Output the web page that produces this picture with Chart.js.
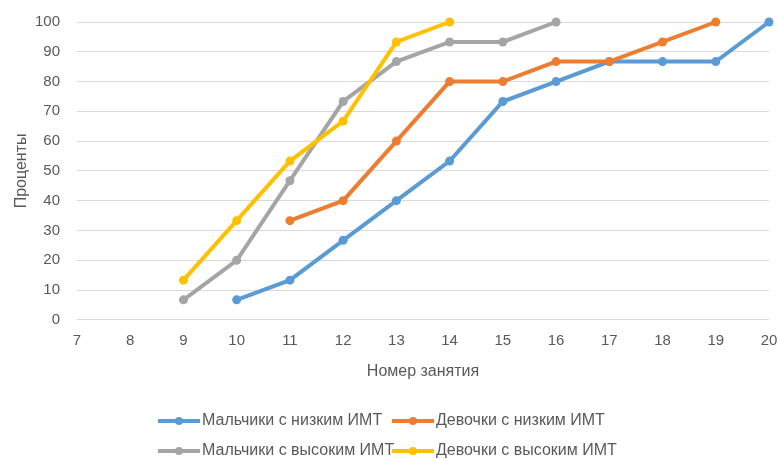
<!DOCTYPE html>
<html>
<head>
<meta charset="utf-8">
<script src="https://cdn.jsdelivr.net/npm/chart.js@4/dist/chart.umd.min.js"></script>
<style>
  html, body { margin: 0; padding: 0; background: #fff; }
  #wrap { width: 779px; height: 459px; }
</style>
</head>
<body>
<div id="wrap"><canvas id="mychart" width="779" height="459"></canvas></div>
<script>
let sessions = [7, 8, 9, 10, 11, 12, 13, 14, 15, 16, 17, 18, 19, 20];
let yTicks = [0, 10, 20, 30, 40, 50, 60, 70, 80, 90, 100];
let seriesNames = ["Мальчики с низким ИМТ", "Девочки с низким ИМТ", "Мальчики с высоким ИМТ", "Девочки с высоким ИМТ"];
let boysLow = [null, null, null, 6.7, 13.3, 26.7, 40, 53.3, 73.3, 80, 86.7, 86.7, 86.7, 100];
let girlsLow = [null, null, null, null, 33.3, 40, 60, 80, 80, 86.7, 86.7, 93.3, 100, null];
let boysHigh = [null, null, 6.7, 20, 46.7, 73.3, 86.7, 93.3, 93.3, 100, null, null, null, null];
let girlsHigh = [null, null, 13.3, 33.3, 53.3, 66.7, 93.3, 100, null, null, null, null, null, null];
let colors = ["#5B9BD5", "#ED7D31", "#A5A5A5", "#FFC000"];

let font = "'Liberation Sans', Arial, sans-serif";
let textColor = "#595959";

function series(i, values, order) {
  return {
    label: seriesNames[i],
    data: values,
    borderColor: colors[i],
    backgroundColor: colors[i],
    borderWidth: 4,
    pointRadius: 4.5,
    pointHoverRadius: 4.5,
    pointBorderWidth: 0,
    tension: 0,
    clip: false,
    order: order,
  };
}

// legend drawn in two rows like the original
let legendPlugin = {
  id: "gridLegend",
  afterDraw(chart) {
    let ctx = chart.ctx;
    let cols = [158, 392];
    let rows = [421, 451];
    ctx.save();
    chart.data.datasets.forEach((ds, i) => {
      let x = cols[i % 2];
      let y = rows[Math.floor(i / 2)];
      ctx.strokeStyle = ds.borderColor;
      ctx.lineWidth = 4;
      ctx.beginPath();
      ctx.moveTo(x, y);
      ctx.lineTo(x + 42, y);
      ctx.stroke();
      ctx.fillStyle = ds.borderColor;
      ctx.beginPath();
      ctx.arc(x + 21, y, 4, 0, Math.PI * 2);
      ctx.fill();
      ctx.fillStyle = textColor;
      ctx.font = "16px " + font;
      ctx.textBaseline = "middle";
      ctx.textAlign = "left";
      ctx.fillText(ds.label, x + 44, y);
    });
    ctx.restore();
  },
};

let chart = new Chart(document.getElementById("mychart"), {
  type: "line",
  data: {
    labels: sessions,
    datasets: [
      series(0, boysLow, 3),
      series(1, girlsLow, 2),
      series(2, boysHigh, 1),
      series(3, girlsHigh, 0),
    ],
  },
  options: {
    responsive: false,
    animation: false,
    layout: { padding: { left: 12, right: 0, top: 22, bottom: 78 } },
    plugins: {
      legend: { display: false },
      tooltip: { enabled: false },
    },
    scales: {
      x: {
        offset: false,
        afterFit: (scale) => { scale.paddingLeft = 0; scale.paddingRight = 10; },
        grid: { display: false, drawTicks: false },
        border: { display: false },
        ticks: { color: textColor, font: { family: font, size: 15 }, padding: 12, maxRotation: 0, autoSkip: false },
        title: { display: true, text: "Номер занятия", color: textColor, font: { family: font, size: 16 }, padding: { top: 0, bottom: 0 } },
      },
      y: {
        min: 0,
        max: 100,
        afterBuildTicks: (scale) => { scale.ticks = yTicks.map((v) => ({ value: v })); },
        afterFit: (scale) => { scale.width = 65; scale.paddingTop = 0; scale.paddingBottom = 0; },
        grid: { color: "#D9D9D9", lineWidth: 1, drawTicks: false },
        border: { display: false },
        ticks: { color: textColor, font: { family: font, size: 15 }, padding: 17 },
        title: { display: true, text: "Проценты", color: textColor, font: { family: font, size: 16 }, padding: { top: 0, bottom: 0 } },
      },
    },
  },
  plugins: [legendPlugin],
});
</script>
</body>
</html>
